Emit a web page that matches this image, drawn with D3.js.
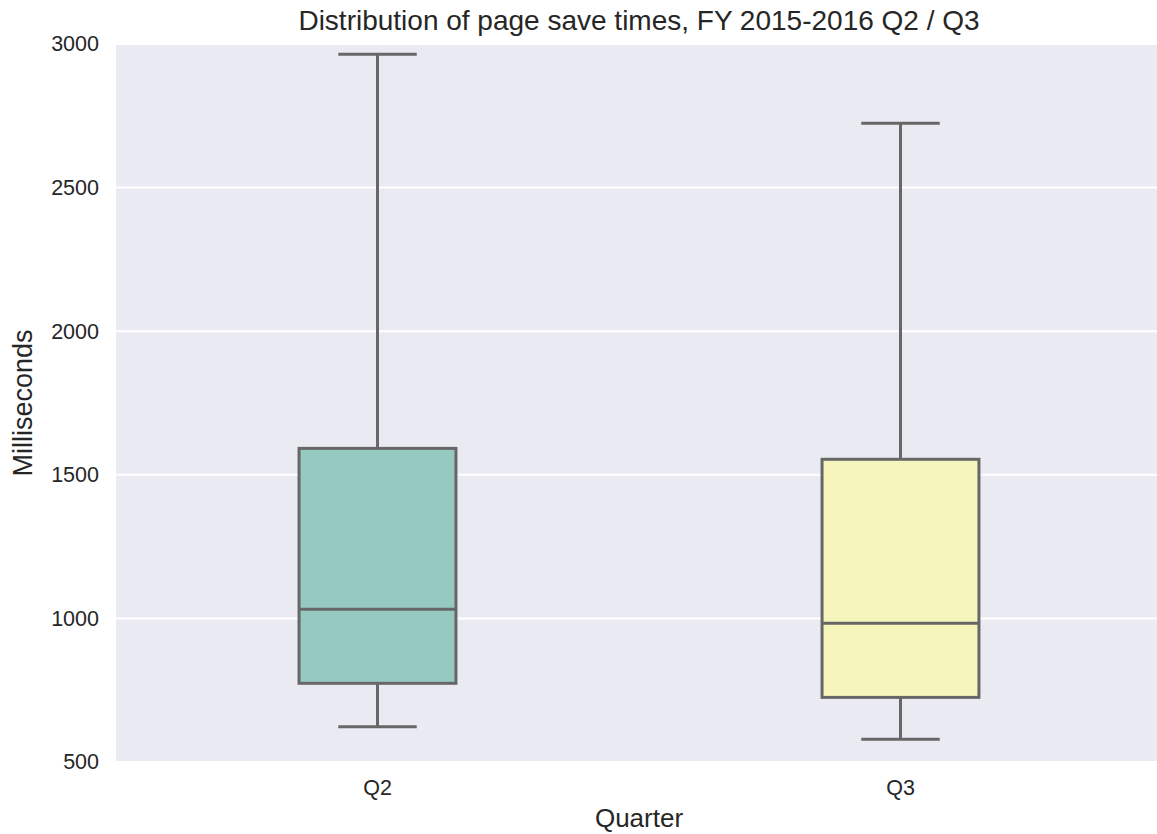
<!DOCTYPE html>
<html>
<head>
<meta charset="utf-8">
<script src="https://cdn.jsdelivr.net/npm/d3@7"></script>
<style>
  html, body { margin: 0; padding: 0; background: #ffffff; overflow: hidden; }
  svg { display: block; font-family: "Liberation Sans", Arial, sans-serif; }
</style>
</head>
<body>
<svg id="chart" width="1157" height="834"></svg>
<script>
// Page save time quartiles (ms) per quarter
const quarters = ["Q2", "Q3"];
const whiskerLow = [623, 579];
const q1 = [774, 725];
const median = [1032, 983];
const q3 = [1592, 1554];
const whiskerHigh = [2964, 2724];
const fills = ["#96cac1", "#f6f6bc"];
const yTicks = [500, 1000, 1500, 2000, 2500, 3000];

const svg = d3.select("#chart");
const plot = { left: 116, right: 1162, top: 44, bottom: 762 };

const x = d3.scaleBand().domain(quarters).range([plot.left, plot.right]).padding(0);
const y = d3.scaleLinear().domain([500, 3000]).range([plot.bottom, plot.top]);

const lineColor = "#676767";
const lw = 3;

// Background
svg.append("rect")
  .attr("x", plot.left).attr("y", plot.top)
  .attr("width", plot.right - plot.left).attr("height", plot.bottom - plot.top)
  .attr("fill", "#eaeaf2");

// Y axis labels
const yAxis = d3.axisLeft(y).tickValues(yTicks).tickFormat(d3.format("d")).tickSize(0).tickPadding(17);
const gy = svg.append("g").attr("transform", `translate(${plot.left},0)`).call(yAxis);
gy.select(".domain").remove();
gy.selectAll("text").attr("fill", "#262626").style("font-size", "21.5px");

// Horizontal grid
svg.append("g").selectAll("line").data(yTicks).join("line")
  .attr("x1", plot.left).attr("x2", plot.right)
  .attr("y1", d => y(d)).attr("y2", d => y(d))
  .attr("stroke", "#ffffff").attr("stroke-width", 2);

// X axis labels
const xAxis = d3.axisBottom(x).tickSize(0).tickPadding(18);
const gx = svg.append("g").attr("transform", `translate(0,${plot.bottom})`).call(xAxis);
gx.select(".domain").remove();
gx.selectAll("text").attr("fill", "#262626").style("font-size", "21.5px");

// Boxes
const boxW = x.bandwidth() * 0.3;
const capW = boxW / 2;
const data = quarters.map((q, i) => ({
  q, lo: whiskerLow[i], q1: q1[i], med: median[i], q3: q3[i], hi: whiskerHigh[i], fill: fills[i]
}));

const g = svg.append("g").selectAll("g").data(data).join("g");
const cx = d => x(d.q) + x.bandwidth() / 2;

// whiskers
g.append("line")
  .attr("x1", cx).attr("x2", cx)
  .attr("y1", d => y(d.q3)).attr("y2", d => y(d.hi))
  .attr("stroke", lineColor).attr("stroke-width", lw);
g.append("line")
  .attr("x1", cx).attr("x2", cx)
  .attr("y1", d => y(d.q1)).attr("y2", d => y(d.lo))
  .attr("stroke", lineColor).attr("stroke-width", lw);
// caps
g.append("line")
  .attr("x1", d => cx(d) - capW / 2).attr("x2", d => cx(d) + capW / 2)
  .attr("y1", d => y(d.hi)).attr("y2", d => y(d.hi))
  .attr("stroke", lineColor).attr("stroke-width", lw);
g.append("line")
  .attr("x1", d => cx(d) - capW / 2).attr("x2", d => cx(d) + capW / 2)
  .attr("y1", d => y(d.lo)).attr("y2", d => y(d.lo))
  .attr("stroke", lineColor).attr("stroke-width", lw);
// box
g.append("rect")
  .attr("x", d => cx(d) - boxW / 2).attr("width", boxW)
  .attr("y", d => y(d.q3)).attr("height", d => y(d.q1) - y(d.q3))
  .attr("fill", d => d.fill)
  .attr("stroke", lineColor).attr("stroke-width", lw);
// median
g.append("line")
  .attr("x1", d => cx(d) - boxW / 2).attr("x2", d => cx(d) + boxW / 2)
  .attr("y1", d => y(d.med)).attr("y2", d => y(d.med))
  .attr("stroke", lineColor).attr("stroke-width", lw);

// Title and axis labels
svg.append("text")
  .attr("x", (plot.left + plot.right) / 2).attr("y", 30)
  .attr("text-anchor", "middle").attr("fill", "#262626")
  .style("font-size", "28px")
  .text("Distribution of page save times, FY 2015-2016 Q2 / Q3");

svg.append("text")
  .attr("x", (plot.left + plot.right) / 2).attr("y", 827)
  .attr("text-anchor", "middle").attr("fill", "#262626")
  .style("font-size", "26px")
  .text("Quarter");

svg.append("text")
  .attr("transform", `translate(32,${(plot.top + plot.bottom) / 2}) rotate(-90)`)
  .attr("text-anchor", "middle").attr("fill", "#262626")
  .style("font-size", "27px")
  .text("Milliseconds");
</script>
</body>
</html>
